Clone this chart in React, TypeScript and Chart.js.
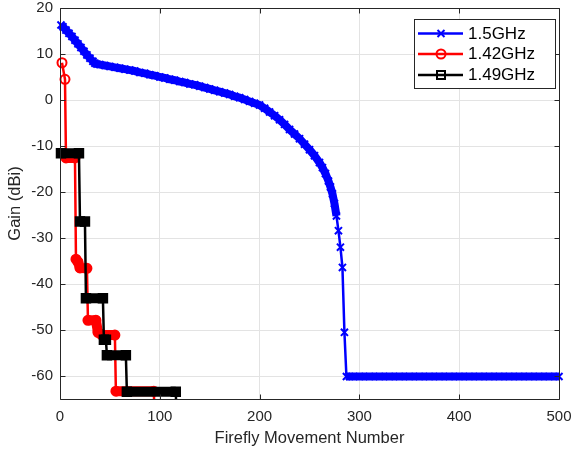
import React, { useEffect, useRef } from 'react';
import { Chart, registerables } from 'chart.js';

Chart.register(...registerables);

const FONT = "'Liberation Sans', Arial, Helvetica, sans-serif";

const xTicks = [0, 100, 200, 300, 400, 500];
const yTicks = [-60, -50, -40, -30, -20, -10, 0, 10, 20];
const seriesNames = ['1.5GHz', '1.42GHz', '1.49GHz'];
const seriesColors = ['#0000ff', '#ff0000', '#000000'];

// 1.5GHz (blue, x markers)
const blueX = [1, 3, 6, 9, 12, 15, 18, 21, 24, 27, 30, 33, 35, 37, 40, 45, 50, 55, 60, 65, 70, 75, 80, 85, 90, 95,
  100, 105, 110, 115, 120, 125, 130, 135, 140, 145, 150, 155, 160, 165, 170, 175, 180, 185, 190, 195,
  200, 205, 210, 215, 220, 225, 230, 235, 240, 245, 250, 255, 260, 263, 266, 269, 271, 273, 275, 277,
  279, 281, 283, 285, 287, 290, 300, 310, 320, 330, 340, 350, 360, 370, 380, 390, 400, 410, 420, 430,
  440, 450, 460, 470, 480, 490, 500];
const blueY = [16.3, 15.9, 15.2, 14.5, 13.8, 13.0, 12.2, 11.4, 10.6, 9.8, 9.1, 8.4, 8.0, 7.8, 7.7, 7.5, 7.3, 7.1, 6.9, 6.7, 6.5, 6.3, 6.0, 5.8, 5.5, 5.3,
  5.0, 4.8, 4.5, 4.3, 4.0, 3.8, 3.5, 3.3, 3.0, 2.7, 2.4, 2.1, 1.8, 1.5, 1.2, 0.8, 0.5, 0.1, -0.3, -0.7,
  -1.1, -1.8, -2.6, -3.4, -4.3, -5.3, -6.4, -7.4, -8.4, -9.6, -10.8, -12.1, -13.6, -14.7, -16.0, -17.6, -18.9, -20.4, -22.5, -25.2,
  -28.4, -32.0, -36.4, -50.5, -60.1, -60.1, -60.1, -60.1, -60.1, -60.1, -60.1, -60.1, -60.1, -60.1, -60.1, -60.1, -60.1, -60.1, -60.1, -60.1,
  -60.1, -60.1, -60.1, -60.1, -60.1, -60.1, -60.1];

// 1.42GHz (red, circle markers)
const redX = [2, 5, 6, 15, 16, 18, 20, 27, 28, 36, 38, 42, 55, 56, 94, 95];
const redY = [8.1, 4.5, -12.6, -12.6, -34.6, -35.2, -36.5, -36.6, -47.9, -47.9, -50.5, -51.1, -51.1, -63.3, -63.3, -70];

// 1.49GHz (black, square markers)
const blackX = [1, 19, 20, 25, 26, 43, 44, 46, 47, 66, 67, 116, 117];
const blackY = [-11.6, -11.6, -26.4, -26.4, -43.1, -43.1, -52.1, -52.1, -55.5, -55.5, -63.4, -63.4, -70];

const zip = (xs: number[], ys: number[]) => xs.map((x, i) => ({ x, y: ys[i] }));

const AXIS_COLOR = '#262626';
const LEVEL_TOL = 3;

// true when sample i belongs to a level run (neighbour within LEVEL_TOL)
const inRun = (ys: number[], i: number) =>
  (i > 0 && Math.abs(ys[i] - ys[i - 1]) < LEVEL_TOL) ||
  (i < ys.length - 1 && Math.abs(ys[i + 1] - ys[i]) < LEVEL_TOL);

// Dense marker rows of the original: level runs are stroked thick underneath each series,
// positioned through the chart's own scales.
const bandSpecs = [
  { xs: blueX, ys: blueY, color: seriesColors[0], width: 8 },
  { xs: redX, ys: redY, color: seriesColors[1], width: 10 },
  { xs: blackX, ys: blackY, color: seriesColors[2], width: 10 },
];

const bandPlugin = {
  id: 'bands',
  beforeDatasetDraw(chart: any, args: any) {
    const spec = bandSpecs[args.index];
    if (!spec) return;
    const { ctx, chartArea: a, scales } = chart;
    ctx.save();
    ctx.beginPath();
    ctx.rect(a.left - 10, a.top - 10, a.right - a.left + 20, a.bottom - a.top + 10);
    ctx.clip();
    ctx.strokeStyle = spec.color;
    ctx.lineWidth = spec.width;
    ctx.lineCap = 'butt';
    ctx.lineJoin = 'round';
    ctx.beginPath();
    let open = false;
    for (let i = 0; i < spec.xs.length - 1; i++) {
      if (Math.abs(spec.ys[i + 1] - spec.ys[i]) < LEVEL_TOL) {
        const x0 = scales.x.getPixelForValue(spec.xs[i]);
        const y0 = scales.y.getPixelForValue(spec.ys[i]);
        const x1 = scales.x.getPixelForValue(spec.xs[i + 1]);
        const y1 = scales.y.getPixelForValue(spec.ys[i + 1]);
        if (!open) ctx.moveTo(x0, y0);
        ctx.lineTo(x1, y1);
        open = true;
      } else {
        open = false;
      }
    }
    ctx.stroke();
    ctx.restore();
  },
};

const framePlugin = {
  id: 'frame',
  afterDatasetsDraw(chart: any) {
    const { ctx, chartArea: a, scales } = chart;
    const L = Math.round(a.left) + 0.5;
    const R = Math.round(a.right) + 0.5;
    const T = Math.round(a.top) + 0.5;
    const B = Math.round(a.bottom) + 0.5;
    ctx.save();
    ctx.strokeStyle = AXIS_COLOR;
    ctx.lineWidth = 1;
    ctx.beginPath();
    ctx.rect(L, T, R - L, B - T);
    const tl = 5;
    xTicks.forEach((v) => {
      const px = Math.round(scales.x.getPixelForValue(v)) + 0.5;
      ctx.moveTo(px, B);
      ctx.lineTo(px, B - tl);
      ctx.moveTo(px, T);
      ctx.lineTo(px, T + tl);
    });
    yTicks.forEach((v) => {
      const py = Math.round(scales.y.getPixelForValue(v)) + 0.5;
      ctx.moveTo(L, py);
      ctx.lineTo(L + tl, py);
      ctx.moveTo(R, py);
      ctx.lineTo(R - tl, py);
    });
    ctx.stroke();
    ctx.restore();
  },
};

const legendPlugin = {
  id: 'customLegend',
  afterDraw(chart: any) {
    const { ctx } = chart;
    const bx = 414.5, by = 19.5, bw = 141, bh = 69;
    ctx.save();
    ctx.fillStyle = '#ffffff';
    ctx.fillRect(bx, by, bw, bh);
    ctx.strokeStyle = AXIS_COLOR;
    ctx.lineWidth = 1;
    ctx.strokeRect(bx, by, bw, bh);
    const rows = [33.5, 54, 75];
    const x0 = 418, x1 = 463, xm = 441;
    seriesNames.forEach((name, i) => {
      const y = rows[i];
      const c = seriesColors[i];
      ctx.strokeStyle = c;
      ctx.lineWidth = 2.5;
      ctx.beginPath();
      ctx.moveTo(x0, y);
      ctx.lineTo(x1, y);
      ctx.stroke();
      ctx.lineWidth = 2;
      ctx.beginPath();
      if (i === 0) {
        const d = 3.5;
        ctx.moveTo(xm - d, y - d);
        ctx.lineTo(xm + d, y + d);
        ctx.moveTo(xm - d, y + d);
        ctx.lineTo(xm + d, y - d);
      } else if (i === 1) {
        ctx.arc(xm, y, 4.5, 0, Math.PI * 2);
      } else {
        ctx.rect(xm - 4, y - 4, 8, 8);
      }
      ctx.stroke();
      ctx.fillStyle = '#000000';
      ctx.font = `17px ${FONT}`;
      ctx.textBaseline = 'middle';
      ctx.textAlign = 'left';
      ctx.fillText(name, 468, y + 0.5);
    });
    ctx.restore();
  },
};

export default function App() {
  const canvasRef = useRef<HTMLCanvasElement | null>(null);

  useEffect(() => {
    const canvas = canvasRef.current;
    if (!canvas) return;
    const clip = { left: 10, top: 10, right: 10, bottom: 0 };
    const main = (xs: number[], ys: number[], i: number, style: string, radius: number, fillRuns: boolean, order: number) => ({
      label: seriesNames[i],
      data: zip(xs, ys),
      borderColor: seriesColors[i],
      backgroundColor: 'transparent',
      borderWidth: 2.5,
      pointStyle: style,
      pointRadius: radius,
      pointBorderWidth: 2,
      pointBorderColor: seriesColors[i],
      pointBackgroundColor: (c: any) =>
        fillRuns && inRun(ys, c.dataIndex) ? seriesColors[i] : 'transparent',
      clip,
      order,
    });
    const chart = new Chart(canvas, {
      type: 'line',
      data: {
        datasets: [
          main(blueX, blueY, 0, 'crossRot', 5, false, 3),
          main(redX, redY, 1, 'circle', 4.5, true, 2),
          main(blackX, blackY, 2, 'rect', 6, true, 1),
        ] as any,
      },
      options: {
        animation: false,
        responsive: false,
        maintainAspectRatio: false,
        layout: { padding: { top: 7, right: 14, left: 0, bottom: 0 } },
        elements: { line: { tension: 0, fill: false } },
        plugins: {
          legend: { display: false },
          tooltip: { enabled: false },
        },
        scales: {
          x: {
            type: 'linear',
            min: 0,
            max: 500,
            afterBuildTicks: (s: any) => {
              s.ticks = xTicks.map((v) => ({ value: v }));
            },
            afterFit: (s: any) => {
              s.height = 50;
              s.paddingLeft = 0;
              s.paddingRight = 0;
            },
            grid: { color: '#e3e3e3', lineWidth: 1, drawTicks: false },
            border: { display: false },
            ticks: {
              padding: 9,
              color: AXIS_COLOR,
              font: { family: FONT, size: 15 },
              maxRotation: 0,
              autoSkip: false,
            },
            title: {
              display: true,
              text: 'Firefly Movement Number',
              color: AXIS_COLOR,
              font: { family: FONT, size: 16.5 },
              padding: { top: 0, bottom: 1 },
            },
          },
          y: {
            type: 'linear',
            min: -65,
            max: 20,
            afterBuildTicks: (s: any) => {
              s.ticks = yTicks.map((v) => ({ value: v }));
            },
            afterFit: (s: any) => {
              s.width = 60;
              s.paddingTop = 0;
              s.paddingBottom = 0;
            },
            grid: { color: '#e3e3e3', lineWidth: 1, drawTicks: false },
            border: { display: false },
            ticks: {
              padding: 7,
              color: AXIS_COLOR,
              font: { family: FONT, size: 15 },
              autoSkip: false,
            },
            title: {
              display: true,
              text: 'Gain (dBi)',
              color: AXIS_COLOR,
              font: { family: FONT, size: 16.5 },
              padding: { top: 6, bottom: 0 },
            },
          },
        },
      },
      plugins: [bandPlugin, framePlugin, legendPlugin],
    });
    return () => chart.destroy();
  }, []);

  return (
    <div style={{ position: 'fixed', left: 0, top: 0, width: 573, height: 449, background: '#ffffff' }}>
      <canvas ref={canvasRef} width={573} height={449} style={{ display: 'block' }} />
    </div>
  );
}
